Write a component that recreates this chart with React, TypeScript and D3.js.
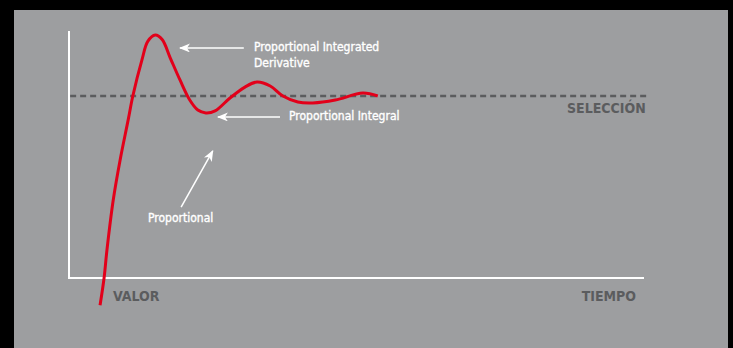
import React, { useEffect, useRef } from 'react';
import * as d3 from 'd3';

// Step response of the controller (time, value) with the setpoint at 1
const responseTime = [5.4, 6.1, 6.6, 7.7, 8.9, 10.3, 11.1, 12.7, 13.7, 15.0, 16.2, 17.6, 19.3, 21.0, 22.4, 23.8, 25.4, 28.0, 30.6, 32.7, 35.0, 37.2, 39.8, 42.4, 46.3, 51.1, 53.7];
const responseValue = [-0.15, 0, 0.154, 0.43, 0.65, 0.87, 1.0, 1.2, 1.3, 1.335, 1.31, 1.21, 1.088, 0.978, 0.923, 0.907, 0.918, 0.989, 1.049, 1.077, 1.055, 1.0, 0.967, 0.962, 0.978, 1.016, 1.0];

const setpoint = 1;
const setpointLabel = 'SELECCIÓN';
const xAxisLabel = 'TIEMPO';
const yAxisLabel = 'VALOR';

// annotations: arrow tip / tail in data units, label lines
const noteLabels = [['Proportional Integrated', 'Derivative'], ['Proportional Integral'], ['Proportional']];
const noteTip = [[19.3, 1.264], [25.9, 0.885], [25.0, 0.698]];
const noteTail = [[30.4, 1.264], [36.7, 0.885], [19.5, 0.39]];

const W = 733;
const H = 348;

const App = () => {
  const ref = useRef<SVGSVGElement>(null);

  useEffect(() => {
    const svg = d3.select(ref.current);
    svg.selectAll('*').remove();

    const x = d3.scaleLinear().domain([0, 100]).range([69, 644]);
    const y = d3.scaleLinear().domain([0, 1]).range([278, 96]);

    // backgrounds
    svg.append('rect').attr('width', W).attr('height', H).attr('fill', '#000');
    svg.append('rect')
      .attr('x', 14).attr('y', 10)
      .attr('width', 714).attr('height', H - 10)
      .attr('fill', '#9d9ea0');

    const font = '"DejaVu Sans Condensed", "DejaVu Sans", sans-serif';

    // axes (plain white lines)
    svg.append('line')
      .attr('x1', x(0)).attr('x2', x(0))
      .attr('y1', y(1.357)).attr('y2', y(0))
      .attr('stroke', '#fff').attr('stroke-width', 2);
    svg.append('line')
      .attr('x1', x(0) - 1).attr('x2', x(100))
      .attr('y1', y(0)).attr('y2', y(0))
      .attr('stroke', '#fff').attr('stroke-width', 2);

    // setpoint
    svg.append('line')
      .attr('x1', x(0.2)).attr('x2', x(100.7))
      .attr('y1', y(setpoint)).attr('y2', y(setpoint))
      .attr('stroke', '#5b5c5e').attr('stroke-width', 2.5)
      .attr('stroke-dasharray', '6 4');

    svg.append('text')
      .attr('x', x(100.3)).attr('y', y(setpoint) + 17)
      .attr('text-anchor', 'end')
      .style('font', `bold 14px ${font}`)
      .attr('fill', '#5b5c5e')
      .text(setpointLabel);

    svg.append('text')
      .attr('x', 113).attr('y', 301)
      .style('font', `bold 14px ${font}`)
      .attr('fill', '#5b5c5e')
      .text(yAxisLabel);
    svg.append('text')
      .attr('x', 636).attr('y', 301)
      .attr('text-anchor', 'end')
      .style('font', `bold 14px ${font}`)
      .attr('fill', '#5b5c5e')
      .text(xAxisLabel);

    // response curve
    const pts = responseTime.map((t, i) => [t, responseValue[i]] as [number, number]);
    const line = d3.line<[number, number]>()
      .x(d => x(d[0]))
      .y(d => y(d[1]))
      .curve(d3.curveCatmullRom.alpha(0.5));
    svg.append('path')
      .attr('d', line(pts))
      .attr('fill', 'none')
      .attr('stroke', '#e2001a')
      .attr('stroke-width', 3)
      .attr('stroke-linecap', 'butt');

    // arrows
    const defs = svg.append('defs');
    defs.append('marker')
      .attr('id', 'head')
      .attr('viewBox', '0 0 11 9')
      .attr('refX', 1).attr('refY', 4.5)
      .attr('markerWidth', 11).attr('markerHeight', 9)
      .attr('markerUnits', 'userSpaceOnUse')
      .attr('orient', 'auto')
      .append('path')
      .attr('d', 'M0,4.5 L11,0 L8,4.5 L11,9 Z')
      .attr('fill', '#fff');

    noteLabels.forEach((lines, i) => {
      const [tx, ty] = noteTip[i];
      const [sx, sy] = noteTail[i];
      svg.append('line')
        .attr('x1', x(tx)).attr('y1', y(ty))
        .attr('x2', x(sx)).attr('y2', y(sy))
        .attr('stroke', '#fff').attr('stroke-width', 1.5)
        .attr('marker-start', 'url(#head)');
    });

    const notePos = [[254, 51], [289, 120], [148, 222]];
    noteLabels.forEach((lines, i) => {
      const t = svg.append('text')
        .attr('x', notePos[i][0]).attr('y', notePos[i][1])
        .style('font', `12px ${font}`)
        .attr('fill', '#fff')
        .attr('stroke', '#fff')
        .attr('stroke-width', 0.35);
      lines.forEach((l, j) => {
        t.append('tspan').attr('x', notePos[i][0]).attr('dy', j ? 16 : 0).text(l);
      });
    });
  }, []);

  return (
    <svg
      ref={ref}
      width={W}
      height={H}
      style={{ position: 'absolute', left: 0, top: 0, display: 'block' }}
    />
  );
};

export default App;
